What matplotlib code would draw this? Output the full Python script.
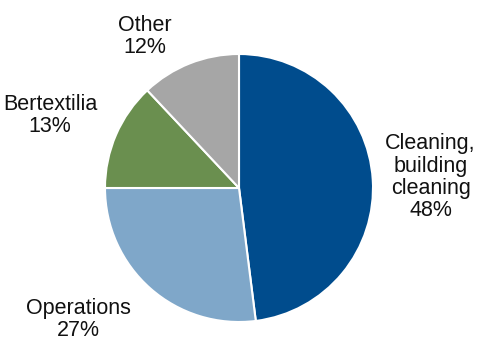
import matplotlib.pyplot as plt

plt.rcParams['font.family'] = ['Liberation Sans', 'DejaVu Sans']

labels = ["Cleaning,\nbuilding\ncleaning", "Operations", "Bertextilia", "Other"]
shares = [48, 27, 13, 12]
colors = ["#004C8D", "#7FA7C9", "#6A8F4F", "#A6A6A6"]
# label centres in pie-radius units
label_pos = [(1.43, 0.08), (-1.20, -0.98), (-1.41, 0.54), (-0.70, 1.13)]

fig = plt.figure(figsize=(4.81, 3.38), dpi=100)
ax = fig.add_axes([105 / 481, 16 / 338, 268 / 481, 268 / 338])

ax.pie(shares, colors=colors, startangle=90, counterclock=False, radius=1,
       wedgeprops={"edgecolor": "white", "linewidth": 1.5})

for lab, val, (x, y) in zip(labels, shares, label_pos):
    ax.text(x, y, f"{lab}\n{val}%", ha="center", va="center", fontsize=15.5,
            linespacing=1.08, color="#111111", clip_on=False)

ax.set_xlim(-1, 1)
ax.set_ylim(-1, 1)
ax.set_aspect("equal")
ax.axis("off")

fig.savefig("out.png", dpi=100)
